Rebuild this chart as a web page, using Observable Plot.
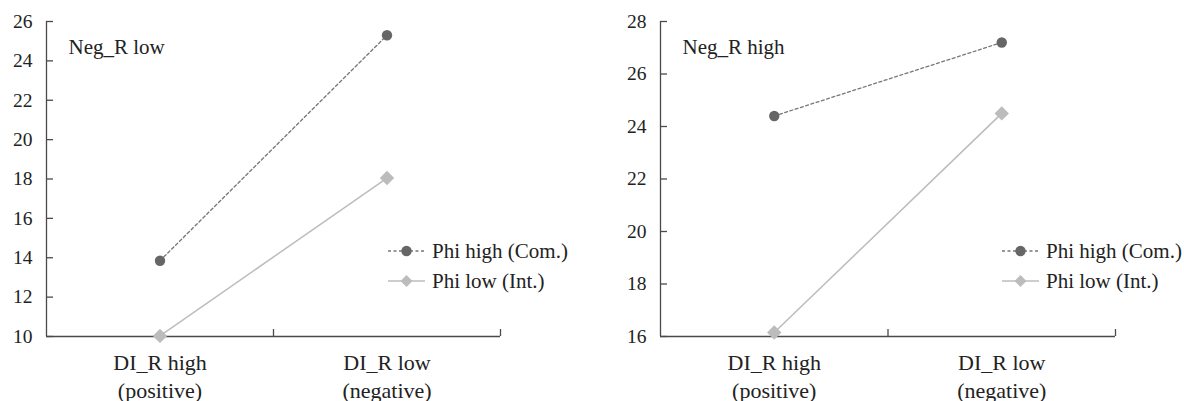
<!DOCTYPE html>
<html><head><meta charset="utf-8">
<script src="https://cdn.jsdelivr.net/npm/d3@7"></script>
<script src="https://cdn.jsdelivr.net/npm/@observablehq/plot@0.6"></script>
<style>
body{margin:0;background:#fff;font-family:"Liberation Serif","DejaVu Serif",serif;}
#wrap{position:relative;width:1184px;height:401px;display:flex;overflow:hidden;}
.leg{position:absolute;font-size:21px;color:#222;line-height:1;white-space:nowrap;}
.leg .row{position:absolute;left:0;display:flex;align-items:center;height:28px;transform:translateY(-50%);}
.leg svg{display:block;}
</style></head><body><div id="wrap"></div>
<script>
const categories = ["DI_R high\n(positive)", "DI_R low\n(negative)"];
const seriesNames = ["Phi high (Com.)", "Phi low (Int.)"];
const panelTitles = ["Neg_R low", "Neg_R high"];
const negLowPhiHigh = [13.85, 25.3];
const negLowPhiLow = [10.03, 18.05];
const negHighPhiHigh = [24.4, 27.2];
const negHighPhiLow = [16.15, 24.5];
const yTicksLeft = [10, 12, 14, 16, 18, 20, 22, 24, 26];
const yTicksRight = [16, 18, 20, 22, 24, 26, 28];

const axisColor = "#4a4a4a";
const highColor = "#666";
const highLine = "#777";
const lowColor = "#bcbcbc";
const FONT = '"Liberation Serif", "DejaVu Serif", serif';

function panel({title, high, low, yTicks, marginLeft, marginRight}) {
  const W = 592, H = 401, mt = 21, mb = 65;
  const plotW = W - marginLeft - marginRight, plotH = H - mt - mb;
  const yDomain = [yTicks[0], yTicks[yTicks.length - 1]];
  const hi = categories.map((c, i) => ({x: i + 0.5, y: high[i]}));
  const lo = categories.map((c, i) => ({x: i + 0.5, y: low[i]}));
  return Plot.plot({
    width: W, height: H, marginTop: mt, marginBottom: mb, marginLeft, marginRight,
    style: {fontFamily: FONT, fontSize: "19px", color: "#222", background: "#fff", overflow: "visible"},
    x: {type: "linear", domain: [0, categories.length], axis: null},
    y: {domain: yDomain, axis: null},
    marks: [
      Plot.axisY({ticks: yTicks, tickSize: 0, tickPadding: 14, fontSize: 19.5, label: null}),
      Plot.tickY(yTicks, {y: d => d, stroke: axisColor, strokeWidth: 1.3, insetRight: plotW - 7}),
      Plot.ruleX(d3.range(1, categories.length + 1), {x: d => d, stroke: axisColor, strokeWidth: 1.3, insetTop: plotH - 7}),
      Plot.ruleX([0], {stroke: axisColor, strokeWidth: 1.3}),
      Plot.ruleY([yDomain[0]], {stroke: axisColor, strokeWidth: 1.3}),
      Plot.axisX({ticks: categories.map((c, i) => i + 0.5), tickFormat: d => categories[Math.floor(d)], tickSize: 0, tickPadding: 14, fontSize: 22, lineHeight: 1.27, label: null}),
      Plot.line(lo, {x: "x", y: "y", stroke: lowColor, strokeWidth: 1.5}),
      Plot.line(hi, {x: "x", y: "y", stroke: highLine, strokeWidth: 1.3, strokeDasharray: "3,2.5"}),
      Plot.dot(lo, {x: "x", y: "y", symbol: "diamond2", r: 6.5, fill: lowColor, stroke: null}),
      Plot.dot(hi, {x: "x", y: "y", symbol: "circle", r: 5.2, fill: highColor, stroke: null}),
      Plot.text([title], {frameAnchor: "top-left", dx: 22, dy: 26, textAnchor: "start", lineAnchor: "middle", fontSize: 21, fill: "#222"})
    ]
  });
}

const wrap = document.getElementById("wrap");
wrap.appendChild(panel({title: panelTitles[0], high: negLowPhiHigh, low: negLowPhiLow, yTicks: yTicksLeft, marginLeft: 46, marginRight: 92}));
wrap.appendChild(panel({title: panelTitles[1], high: negHighPhiHigh, low: negHighPhiLow, yTicks: yTicksRight, marginLeft: 68, marginRight: 69}));

function legend(left, top) {
  const div = document.createElement("div");
  div.className = "leg";
  div.style.left = left + "px";
  div.style.top = top + "px";
  const styles = [
    {stroke: highLine, dash: "3,2.5", fill: highColor, sym: "circle"},
    {stroke: lowColor, dash: null, fill: lowColor, sym: "diamond"}
  ];
  seriesNames.forEach((name, i) => {
    const row = document.createElement("div");
    row.className = "row";
    row.style.top = (i * 30) + "px";
    const s = styles[i];
    const ns = "http://www.w3.org/2000/svg";
    const svg = document.createElementNS(ns, "svg");
    svg.setAttribute("width", 44); svg.setAttribute("height", 14);
    const ln = document.createElementNS(ns, "line");
    ln.setAttribute("x1", 0); ln.setAttribute("x2", 37); ln.setAttribute("y1", 7); ln.setAttribute("y2", 7);
    ln.setAttribute("stroke", s.stroke); ln.setAttribute("stroke-width", i ? 1.5 : 1.3);
    if (s.dash) ln.setAttribute("stroke-dasharray", s.dash);
    svg.appendChild(ln);
    if (s.sym === "circle") {
      const c = document.createElementNS(ns, "circle");
      c.setAttribute("cx", 18.5); c.setAttribute("cy", 7); c.setAttribute("r", 5.2); c.setAttribute("fill", s.fill);
      svg.appendChild(c);
    } else {
      const p = document.createElementNS(ns, "path");
      p.setAttribute("d", "M18.5,1 L24.5,7 L18.5,13 L12.5,7Z"); p.setAttribute("fill", s.fill);
      svg.appendChild(p);
    }
    row.appendChild(svg);
    const t = document.createElement("span");
    t.textContent = name;
    row.appendChild(t);
    div.appendChild(row);
  });
  wrap.appendChild(div);
}
legend(388, 251);
legend(1002, 251);
</script>
</body></html>
